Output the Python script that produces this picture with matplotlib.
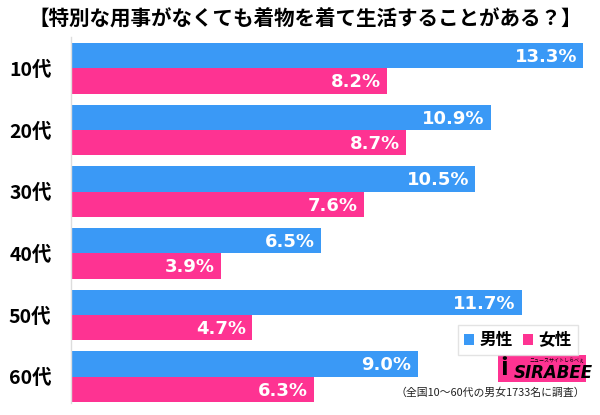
import matplotlib
matplotlib.use("Agg")
import matplotlib.pyplot as plt
from matplotlib.patches import Rectangle, Patch
import numpy as np

plt.rcParams['font.family'] = ['Noto Sans CJK JP', 'DejaVu Sans']

title = "【特別な用事がなくても着物を着て生活することがある？】"
categories = ["10代", "20代", "30代", "40代", "50代", "60代"]
male = [13.3, 10.9, 10.5, 6.5, 11.7, 9.0]
female = [8.2, 8.7, 7.6, 3.9, 4.7, 6.3]
series_names = ["男性", "女性"]
footnote = "（全国10～60代の男女1733名に調査）"

BLUE = "#3a99f6"
PINK = "#fe3392"

fig = plt.figure(figsize=(6.0, 4.15), dpi=100)
ax = fig.add_axes([71/600, 1-403/415, 520/600, 366/415])

y = np.arange(len(categories))
h = 0.41
ax.barh(y - h/2, male, height=h, color=BLUE, edgecolor='none')
ax.barh(y + h/2, female, height=h, color=PINK, edgecolor='none')

ax.set_xlim(0, 13.5)
ax.set_ylim(5.425, -0.507)

for i, v in enumerate(male):
    ax.text(v - 0.16, i - h/2 + 0.02, f"{v:.1f}%", ha='right', va='center',
            color='white', fontsize=13, fontweight='bold', family='DejaVu Sans')
for i, v in enumerate(female):
    ax.text(v - 0.16, i + h/2 + 0.02, f"{v:.1f}%", ha='right', va='center',
            color='white', fontsize=13, fontweight='bold', family='DejaVu Sans')

ax.set_yticks(y)
ax.set_yticklabels(categories, fontsize=14, fontweight='bold')
ax.tick_params(axis='y', length=0, pad=14)
ax.set_xticks([])
for s in ['top', 'right', 'bottom']:
    ax.spines[s].set_visible(False)
ax.spines['left'].set_color('#dddddd')
ax.spines['left'].set_linewidth(1)

fig.text(305/600, 1-19/415, title, ha='center', va='center', fontsize=14.8, fontweight='bold')

handles = [Patch(facecolor=BLUE, edgecolor='none'), Patch(facecolor=PINK, edgecolor='none')]
leg = fig.legend(handles, series_names, loc='upper right', bbox_to_anchor=(586/600, 1-317/415),
                 ncol=2, frameon=True, fancybox=False, edgecolor='#dddddd',
                 prop={'size': 12, 'weight': 'bold'},
                 handlelength=0.6, handleheight=0.6, handletextpad=0.35, columnspacing=0.6,
                 borderpad=0.35)
leg.get_frame().set_linewidth(1)

# logo
fig.patches.append(Rectangle((498/600, 1-382/415), 88/600, 27/415, transform=fig.transFigure,
                             facecolor=PINK, edgecolor='none'))
fig.text(500/600, 1-368/415, "i", fontsize=18, fontweight='bold', color='black', va='center', ha='left')
fig.text(514/600, 1-373/415, "SIRABEE", fontsize=12, fontweight='bold', style='italic', color='black',
         va='center', ha='left', family='DejaVu Sans')
fig.text(584/600, 1-361/415, "ニュースサイトしらべぇ", fontsize=3.6, color='black', va='center', ha='right')

fig.text(585/600, 1-393/415, footnote, ha='right', va='center', fontsize=7.8, color='#222222')

fig.savefig("out.png", dpi=100)
